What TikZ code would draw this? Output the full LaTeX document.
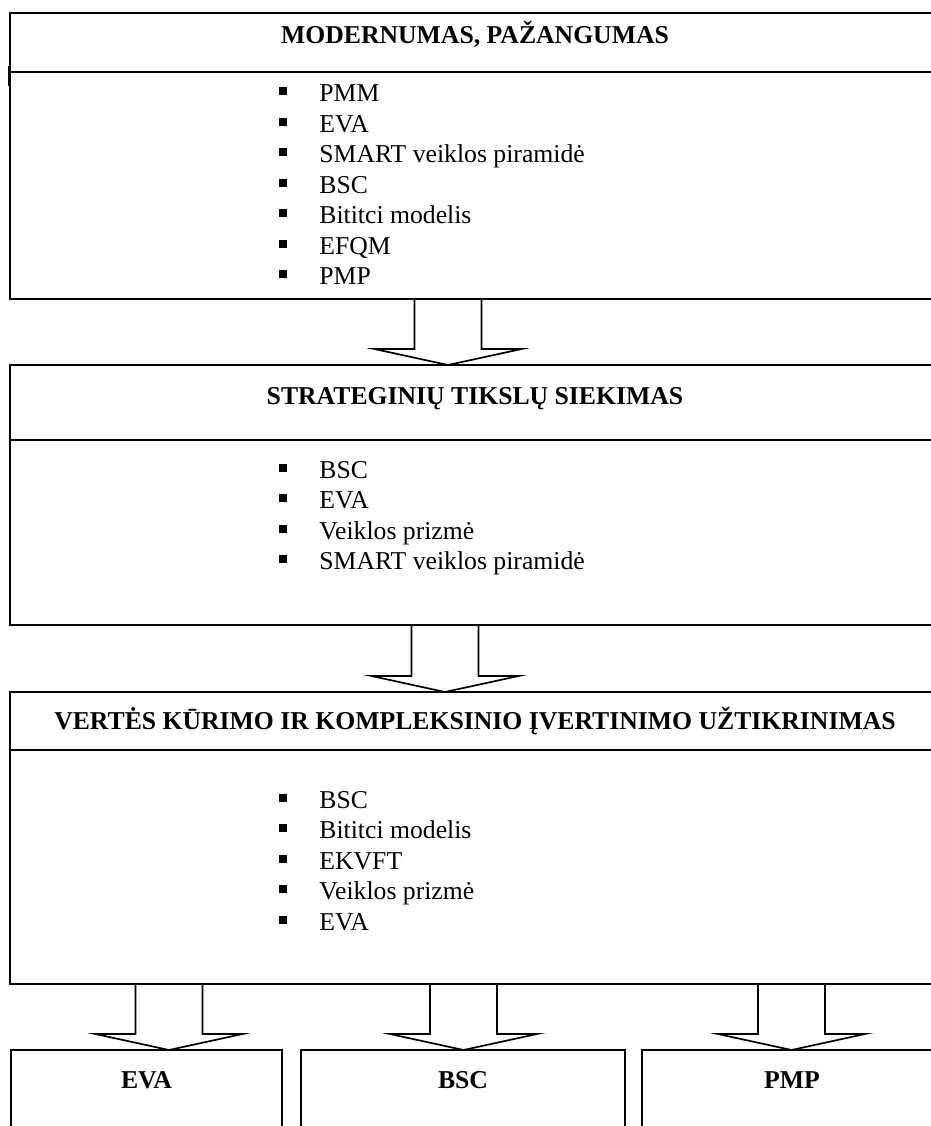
\documentclass[tikz,border=0pt]{standalone}
\usepackage{fontspec}
\setmainfont{Liberation Serif}
\usetikzlibrary{calc}
\begin{document}
\begin{tikzpicture}[x=0.5pt,y=-0.5pt,
  frame/.style={draw=black,line width=0.85pt},
  panel/.style={frame,anchor=north west,inner sep=0pt,outer sep=0pt},
  heading/.style={font=\fontsize{12.85}{15.4}\selectfont\bfseries,inner sep=0pt,anchor=base},
  entry/.style={font=\fontsize{12.85}{15.4}\selectfont,inner sep=0pt,anchor=base west},
]
\useasboundingbox (0,0) rectangle (931,1126);
\clip (0,0) rectangle (931,1126);

% list entry with a square bullet: name, baseline, text
\newcommand\listentry[3]{%
  \node[entry] (#1) at (319,#2) {#3};
  \fill (279,{#2-14.5}) rectangle (287,{#2-6.5});}

% hollow block arrow: source panel, target panel, x position
\newcommand\blockarrow[3]{%
  \draw[frame,line join=miter] let \p1=(#1.south -| #3,0), \p2=(#2.north -| #3,0) in
    (\x1-16.75pt,\y1) -- (\x1-16.75pt,\y2+8pt) -- (\x1-36.75pt,\y2+8pt)
    -- (\x2,\y2) -- (\x1+36.75pt,\y2+8pt) -- (\x1+16.75pt,\y2+8pt) -- (\x1+16.75pt,\y1);}

% main panels
\node[panel,minimum width=466pt,minimum height=143.15pt] (p1) at (10,12.7) {};
\node[panel,minimum width=466pt,minimum height=130pt] (p2) at (10,365) {};
\node[panel,minimum width=466pt,minimum height=146pt] (p3) at (10,692) {};

% bottom panels
\node[panel,minimum width=135.5pt,minimum height=80pt] (q1) at (11,1050) {};
\node[panel,minimum width=162pt,minimum height=80pt] (q2) at (301,1050) {};
\node[panel,minimum width=150pt,minimum height=80pt] (q3) at (642,1050) {};

% header dividers
\draw[frame] (10,72) -- (942,72);
\draw[frame] (9.3,66) -- (9.3,86);
\draw[frame] (10,440) -- (942,440);
\draw[frame] (10,750) -- (942,750);

% headings
\node[heading] (t1) at (475,43) {MODERNUMAS, PAŽANGUMAS};
\node[heading] (t2) at (475,404) {STRATEGINIŲ TIKSLŲ SIEKIMAS};
\node[heading] (t3) at (475,729) {VERTĖS KŪRIMO IR KOMPLEKSINIO ĮVERTINIMO UŽTIKRINIMAS};
\node[heading] (u1) at (146.5,1088) {EVA};
\node[heading] (u2) at (463,1088) {BSC};
\node[heading] (u3) at (792,1088) {PMP};

% lists
\listentry{a1}{101.5}{PMM}
\listentry{a2}{132}{EVA}
\listentry{a3}{162.5}{SMART veiklos piramidė}
\listentry{a4}{193}{BSC}
\listentry{a5}{223.5}{Bititci modelis}
\listentry{a6}{254}{EFQM}
\listentry{a7}{284.5}{PMP}

\listentry{b1}{478}{BSC}
\listentry{b2}{508.5}{EVA}
\listentry{b3}{539}{Veiklos prizmė}
\listentry{b4}{569.5}{SMART veiklos piramidė}

\listentry{c1}{808}{BSC}
\listentry{c2}{838.5}{Bititci modelis}
\listentry{c3}{869}{EKVFT}
\listentry{c4}{899.5}{Veiklos prizmė}
\listentry{c5}{930}{EVA}

% arrows between panels
\blockarrow{p1}{p2}{448}
\blockarrow{p2}{p3}{445}
\blockarrow{p3}{q1}{169}
\blockarrow{p3}{q2}{463.5}
\blockarrow{p3}{q3}{791.5}
\end{tikzpicture}
\end{document}
